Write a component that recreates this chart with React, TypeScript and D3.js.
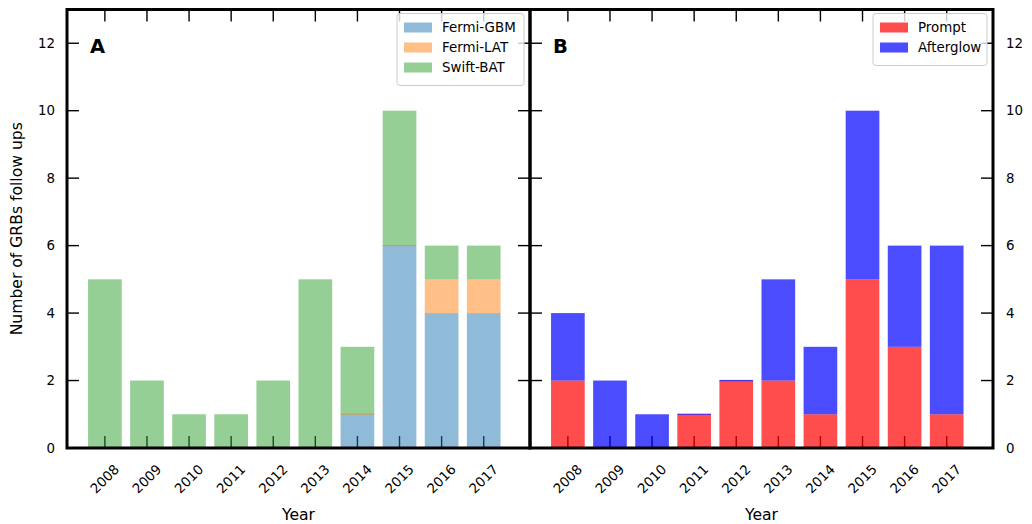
import React from 'react'
import * as d3 from 'd3'

// years on the x axis
const years = [2008, 2009, 2010, 2011, 2012, 2013, 2014, 2015, 2016, 2017]

// panel A: instrument that triggered the follow up
const fermiGBM = [0, 0, 0, 0, 0, 0, 1, 6, 4, 4]
const fermiLAT = [0, 0, 0, 0, 0, 0, 0, 0, 1, 1]
const swiftBAT = [5, 2, 1, 1, 2, 5, 2, 4, 1, 1]

// panel B: phase of the observation
const prompt = [2, 0, 0, 1, 2, 2, 1, 5, 3, 1]
const afterglow = [2, 2, 1, 0, 0, 3, 2, 5, 3, 5]

const yTicks = [0, 2, 4, 6, 8, 10, 12]

const FONT = 'DejaVu Sans, Verdana, sans-serif'
const FS = 13.4
const LABEL_FS = 15.6

const top = 9.5
const bottom = 448
const panelW = 463
const panelsLeft = [67, 530]

const y = d3.scaleLinear().domain([0, 13]).range([bottom, top])

type Series = { name: string; values: number[]; color: string }

function Panel(props: {
  x0: number
  letter: string
  series: Series[]
  opacity: number
  labelsRight: boolean
  labelsLeft: boolean
  legendW: number
}) {
  const { x0, letter, series, opacity } = props
  const x = d3.scaleLinear().domain([2007.1, 2018.1]).range([x0, x0 + panelW])
  const barW = 0.8 * (x(1) - x(0))
  const stack = d3.stack<number>()
    .keys(series.map((s, i) => String(i)))
    .value((d, k) => series[+k].values[d])
  const layers = stack(years.map((_, i) => i))
  const tl = 12
  const x1 = x0 + panelW
  const legX = x1 - 6 - props.legendW
  const legH = 12 + series.length * 20
  return (
    <g>
      {/* ticks drawn beneath the translucent bars */}
      <g stroke="#000" strokeWidth={1.4}>
        {years.map(yr => (
          <g key={yr}>
            <line x1={x(yr)} x2={x(yr)} y1={bottom} y2={bottom - tl} />
            <line x1={x(yr)} x2={x(yr)} y1={top} y2={top + tl} />
          </g>
        ))}
        {yTicks.map(t => (
          <g key={t}>
            <line x1={x0} x2={x0 + tl} y1={y(t)} y2={y(t)} />
            <line x1={x1} x2={x1 - tl} y1={y(t)} y2={y(t)} />
          </g>
        ))}
      </g>
      {layers.map((layer, li) => (
        <g key={li} fill={series[li].color} fillOpacity={opacity}>
          {layer.map((d, i) => {
            const h = y(d[0]) - y(d[1])
            // zero-height bars still leave a hairline, as in the original
            return h > 0 ? (
              <rect key={i} x={x(years[i]) - barW / 2} width={barW} y={y(d[1])} height={h} />
            ) : (
              <rect key={i} x={x(years[i]) - barW / 2} width={barW} y={y(d[0]) - 0.6} height={1.2} />
            )
          })}
        </g>
      ))}
      <rect x={x0} y={top} width={panelW} height={bottom - top}
        fill="none" stroke="#000" strokeWidth={3} />
      <text x={x0 + 23} y={53} fontFamily={FONT} fontWeight="bold" fontSize={19.5}>{letter}</text>
      {/* legend */}
      <g fontFamily={FONT} fontSize={FS}>
        <rect x={legX} y={top + 4} width={props.legendW} height={legH} rx={3}
          fill="#fff" fillOpacity={0.8} stroke="#cccccc" strokeWidth={1} />
        {series.map((s, i) => (
          <g key={s.name}>
            <rect x={legX + 7} y={top + 13 + i * 20} width={28} height={10}
              fill={s.color} fillOpacity={opacity} />
            <text x={legX + 45} y={top + 18 + i * 20} dominantBaseline="central">{s.name}</text>
          </g>
        ))}
      </g>
      <g fontFamily={FONT} fontSize={FS}>
        {years.map(yr => (
          <text key={yr} transform={`translate(${x(yr)},${479}) rotate(-45)`}
            textAnchor="middle" dominantBaseline="central">{yr}</text>
        ))}
        {props.labelsLeft && yTicks.map(t => (
          <text key={t} x={x0 - 12} y={y(t)} textAnchor="end" dominantBaseline="central">{t}</text>
        ))}
        {props.labelsRight && yTicks.map(t => (
          <text key={t} x={x1 + 13} y={y(t)} textAnchor="start" dominantBaseline="central">{t}</text>
        ))}
      </g>
      <text x={x0 + panelW / 2} y={515} textAnchor="middle" dominantBaseline="central"
        fontFamily={FONT} fontSize={LABEL_FS}>Year</text>
    </g>
  )
}

export default function App() {
  const seriesA: Series[] = [
    { name: 'Fermi-GBM', values: fermiGBM, color: '#1f77b4' },
    { name: 'Fermi-LAT', values: fermiLAT, color: '#ff7f0e' },
    { name: 'Swift-BAT', values: swiftBAT, color: '#2ca02c' },
  ]
  const seriesB: Series[] = [
    { name: 'Prompt', values: prompt, color: '#ff0000' },
    { name: 'Afterglow', values: afterglow, color: '#0000ff' },
  ]
  return (
    <svg width={1032} height={524} style={{ position: 'absolute', left: 0, top: 0 }}>
      <rect width={1032} height={524} fill="#fff" />
      <Panel x0={panelsLeft[0]} letter="A" series={seriesA} opacity={0.5}
        labelsLeft labelsRight={false} legendW={127} />
      <Panel x0={panelsLeft[1]} letter="B" series={seriesB} opacity={0.7}
        labelsLeft={false} labelsRight legendW={114} />
      <text transform={`translate(17,${(top + bottom) / 2}) rotate(-90)`}
        textAnchor="middle" dominantBaseline="central" fontFamily={FONT} fontSize={LABEL_FS}>
        Number of GRBs follow ups
      </text>
    </svg>
  )
}
